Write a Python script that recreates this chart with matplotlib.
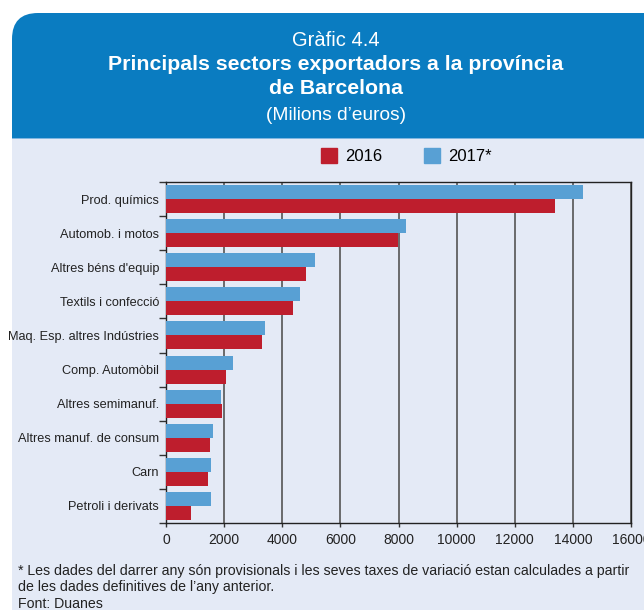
import numpy as np
import matplotlib
matplotlib.use('Agg')
import matplotlib.pyplot as plt
from matplotlib.patches import FancyBboxPatch, Rectangle, Patch
from matplotlib.transforms import IdentityTransform

# dades (milions d'euros)
sectors = ['Prod. químics', 'Automob. i motos', "Altres béns d'equip", 'Textils i confecció',
           'Maq. Esp. altres Indústries', 'Comp. Automòbil', 'Altres semimanuf.',
           'Altres manuf. de consum', 'Carn', 'Petroli i derivats']
v2016 = [13380, 7980, 4810, 4360, 3300, 2060, 1920, 1510, 1440, 850]
v2017 = [14350, 8250, 5120, 4600, 3400, 2300, 1890, 1610, 1540, 1540]
xticks = [0, 2000, 4000, 6000, 8000, 10000, 12000, 14000, 16000]

RED, BLUE = '#be1e2d', '#58a0d4'
HEAD, BG = '#0a7cc1', '#e4eaf6'
SANS = 'Liberation Sans'
TXT = '#222222'
W, H = 644, 610

fig = plt.figure(figsize=(W / 100, H / 100), dpi=100, facecolor='white')
px = lambda x, y: (x / W, 1 - y / H)

# capçalera i fons
idt = IdentityTransform()
fig.patches.append(FancyBboxPatch((12, H - 180), 700, 167, boxstyle='round,pad=0,rounding_size=26',
                                  transform=idt, fc=HEAD, ec='none', zorder=0))
fig.patches.append(Rectangle((12, 0), 700, H - 138, transform=idt, fc=BG, ec='none', zorder=1))
fig.patches.append(Rectangle((12, H - 139), 700, 1.5, transform=idt, fc='#7fb6e0', ec='none', zorder=1))

fig.text(*px(336, 40), 'Gràfic 4.4', color='white', fontsize=14.5, ha='center', va='center', family=SANS)
fig.text(*px(336, 65), 'Principals sectors exportadors a la província', color='white', fontsize=15.3,
         ha='center', va='center', family=SANS, weight='bold')
fig.text(*px(336, 89), 'de Barcelona', color='white', fontsize=15.3, ha='center', va='center',
         family=SANS, weight='bold')
fig.text(*px(336, 115), '(Milions d\u2019euros)', color='white', fontsize=13.8, ha='center', va='center',
         family=SANS)

# gràfic
ax = fig.add_axes([166 / W, 1 - 523 / H, (631 - 166) / W, (523 - 182) / H])
ax.set_facecolor('none')
ax.set_zorder(2)
y = np.arange(len(sectors))
h = 0.41
ax.barh(y - h / 2, v2017, height=h, color=BLUE, zorder=3)
ax.barh(y + h / 2, v2016, height=h, color=RED, zorder=3)
ax.set_ylim(len(sectors) - 0.5, -0.5)
ax.set_xlim(0, 16000)
ax.set_xticks(xticks)
ax.set_xticklabels([str(t) for t in xticks], family=SANS, fontsize=10, color=TXT)
ax.set_yticks(y)
ax.set_yticklabels(sectors, family=SANS, fontsize=9.2, color=TXT)
ax.set_yticks(np.arange(-0.5, len(sectors) + 0.5, 1), minor=True)
ax.tick_params(axis='y', which='major', length=0, pad=5)
ax.tick_params(axis='y', which='minor', length=5, width=1, color='#333333')
ax.tick_params(axis='x', length=3, width=1, color='#333333', pad=4)
ax.grid(axis='x', color='#555555', lw=1.2, zorder=1)
for s in ax.spines.values():
    s.set_color(TXT); s.set_linewidth(1)

# llegenda
fig.legend(handles=[Patch(color=RED, label='2016'), Patch(color=BLUE, label='2017*')],
           loc='center', bbox_to_anchor=px(406, 156), ncol=2, frameon=False,
           handlelength=1.0, handleheight=1.0, handletextpad=0.45, columnspacing=2.5,
           prop={'family': SANS, 'size': 12})

# notes
note = dict(fontsize=10.2, family=SANS, va='center', color=TXT)
fig.text(*px(18, 571), '* Les dades del darrer any són provisionals i les seves taxes de variació '
         'estan calculades a partir', **note)
fig.text(*px(18, 587), 'de les dades definitives de l\u2019any anterior.', **note)
fig.text(*px(18, 604), 'Font: Duanes', **note)

fig.savefig('out.png', dpi=100)
